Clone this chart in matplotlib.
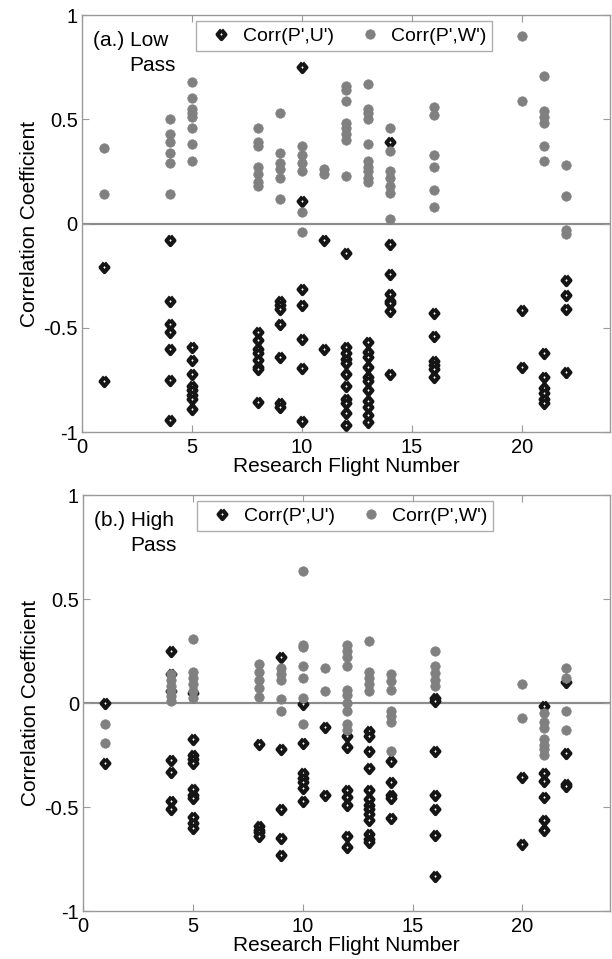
import numpy as np
import matplotlib
matplotlib.use("Agg")
import matplotlib.pyplot as plt

# flight number -> correlation values
# (a.) low pass
LP_U = {1: [-0.21, -0.755],
        4: [-0.08, -0.37, -0.48, -0.52, -0.60, -0.75, -0.94],
        5: [-0.59, -0.655, -0.72, -0.78, -0.80, -0.82, -0.84, -0.89],
        8: [-0.52, -0.56, -0.60, -0.62, -0.655, -0.69, -0.70, -0.855],
        9: [-0.37, -0.39, -0.41, -0.48, -0.64, -0.86, -0.88],
        10: [0.75, 0.11, -0.315, -0.39, -0.555, -0.695, -0.947],
        11: [-0.08, -0.60],
        12: [-0.14, -0.59, -0.62, -0.65, -0.67, -0.72, -0.78, -0.84, -0.86,
             -0.91, -0.966],
        13: [-0.57, -0.615, -0.64, -0.69, -0.735, -0.755, -0.80, -0.85, -0.88,
             -0.92, -0.95],
        14: [0.39, -0.10, -0.24, -0.34, -0.37, -0.38, -0.42, -0.72],
        16: [-0.43, -0.54, -0.66, -0.68, -0.70, -0.735],
        20: [-0.415, -0.69],
        21: [-0.62, -0.735, -0.79, -0.815, -0.84, -0.86],
        22: [-0.27, -0.345, -0.41, -0.71]}
LP_W = {1: [0.36, 0.14],
        4: [0.50, 0.43, 0.39, 0.34, 0.29, 0.14],
        5: [0.68, 0.60, 0.55, 0.53, 0.51, 0.46, 0.38, 0.30],
        8: [0.46, 0.39, 0.37, 0.27, 0.24, 0.20, 0.18],
        9: [0.53, 0.34, 0.29, 0.26, 0.22, 0.12],
        10: [0.37, 0.33, 0.29, 0.25, 0.055, -0.04],
        11: [0.26, 0.24],
        12: [0.66, 0.64, 0.59, 0.48, 0.46, 0.43, 0.40, 0.23],
        13: [0.67, 0.55, 0.53, 0.50, 0.38, 0.30, 0.27, 0.25, 0.22, 0.20],
        14: [0.46, 0.35, 0.25, 0.22, 0.18, 0.145, 0.02],
        16: [0.56, 0.52, 0.33, 0.27, 0.16, 0.08],
        20: [0.90, 0.59],
        21: [0.71, 0.54, 0.51, 0.48, 0.37, 0.30],
        22: [0.28, 0.13, -0.03, -0.05]}

# (b.) high pass
HP_U = {1: [0.0, -0.29],
        4: [0.25, 0.14, 0.06, -0.275, -0.33, -0.47, -0.51],
        5: [0.05, -0.175, -0.25, -0.27, -0.29, -0.415, -0.44, -0.455, -0.55,
            -0.575, -0.60],
        8: [-0.195, -0.59, -0.61, -0.62, -0.64],
        9: [0.22, -0.22, -0.51, -0.65, -0.73],
        10: [-0.006, -0.19, -0.335, -0.36, -0.38, -0.41, -0.47],
        11: [-0.115, -0.44],
        12: [-0.16, -0.21, -0.42, -0.45, -0.49, -0.64, -0.69],
        13: [-0.135, -0.16, -0.23, -0.31, -0.42, -0.46, -0.49, -0.51, -0.535,
             -0.56, -0.63, -0.655, -0.67],
        14: [-0.28, -0.38, -0.44, -0.455, -0.555],
        16: [0.025, 0.01, -0.23, -0.44, -0.51, -0.635, -0.83],
        20: [-0.355, -0.68],
        21: [-0.015, -0.335, -0.375, -0.45, -0.56, -0.61],
        22: [0.10, -0.24, -0.39, -0.40]}
HP_W = {1: [-0.10, -0.19],
        4: [0.14, 0.11, 0.08, 0.06, 0.035, 0.01],
        5: [0.31, 0.15, 0.12, 0.09, 0.06, 0.025],
        8: [0.19, 0.15, 0.11, 0.07, 0.03],
        9: [0.17, 0.14, 0.11, 0.02, -0.04],
        10: [0.635, 0.28, 0.27, 0.18, 0.12, 0.025, -0.10],
        11: [0.17, 0.06],
        12: [0.28, 0.25, 0.22, 0.18, 0.065, 0.04, 0.0, -0.04, -0.10, -0.13],
        13: [0.30, 0.15, 0.12, 0.09, 0.06],
        14: [0.14, 0.105, 0.065, -0.04, -0.06, -0.09, -0.23],
        16: [0.25, 0.18, 0.145, 0.11, 0.08],
        20: [0.09, -0.07],
        21: [-0.05, -0.09, -0.12, -0.175, -0.20, -0.22, -0.25],
        22: [0.17, 0.12, -0.04, -0.13]}

PANELS = [("(a.) Low", LP_U, LP_W), ("(b.) High", HP_U, HP_W)]

plt.rcParams["font.family"] = ["Liberation Sans", "DejaVu Sans"]
plt.rcParams["axes.unicode_minus"] = False

FRAME = "#9a9a9a"
DIAMOND = [(0, 1), (0.85, 0), (0, -1), (-0.85, 0), (0, 1)]
FS = 15


def flatten(groups):
    xs, ys = [], []
    for k, vals in groups.items():
        xs += [k] * len(vals)
        ys += vals
    return np.array(xs), np.array(ys)


fig = plt.figure(figsize=(6.12, 9.59), dpi=100)
rects = [[0.134, 0.5495, 0.863, 0.4348], [0.136, 0.050, 0.861, 0.4338]]

for rect, (tag, gu, gw) in zip(rects, PANELS):
    ax = fig.add_axes(rect)
    ax.axhline(0.0, color="#8c8c8c", lw=1.6, zorder=1)
    xu, yu = flatten(gu)
    xw, yw = flatten(gw)
    ax.plot(xu, yu, ls="none", marker=DIAMOND, ms=6.6, mfc="white",
            mec="#151515", mew=3.0, zorder=2, label="Corr(P',U')")
    ax.plot(xw, yw, ls="none", marker="o", ms=6.8, mfc="#808080",
            mec="#808080", mew=0.5, zorder=3, label="Corr(P',W')")
    ax.set_xlim(0, 24)
    ax.set_ylim(-1, 1)
    ax.set_xticks([0, 5, 10, 15, 20])
    ax.set_yticks([-1, -0.5, 0, 0.5, 1])
    ax.set_yticklabels(["-1", "-0.5", "0", "0.5", "1"])
    ax.tick_params(direction="in", length=5, color=FRAME, labelsize=14.5,
                   top=True, right=True, pad=3)
    ax.tick_params(axis="x", pad=4)
    for s in ax.spines.values():
        s.set_color(FRAME)
        s.set_linewidth(1.0)
    ax.set_xlabel("Research Flight Number", fontsize=FS, labelpad=0.5)
    ax.set_ylabel("Correlation Coefficient", fontsize=FS, labelpad=3)
    ax.text(0.021, 0.925, tag, transform=ax.transAxes, fontsize=FS,
            va="baseline")
    ax.text(0.089, 0.866, "Pass", transform=ax.transAxes, fontsize=FS,
            va="baseline")
    leg = ax.legend(loc="upper left", bbox_to_anchor=(0.216, 0.985), ncol=2,
                    fontsize=14, frameon=True, fancybox=False,
                    handlelength=2.0, handletextpad=0.1, columnspacing=0.85,
                    borderpad=0.3, borderaxespad=0.0)
    leg.get_frame().set_edgecolor(FRAME)
    leg.get_frame().set_linewidth(1.0)

fig.savefig("out.png", dpi=100)
